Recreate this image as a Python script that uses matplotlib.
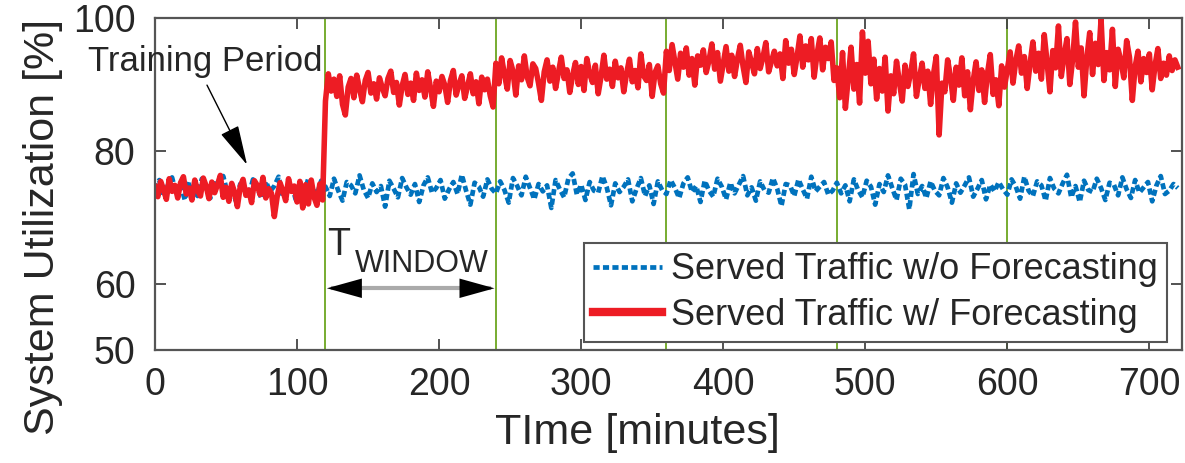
import numpy as np
import matplotlib
matplotlib.use('Agg')
import matplotlib.pyplot as plt

plt.rcParams['font.family'] = ['Liberation Sans', 'DejaVu Sans']

# 时间轴（分钟）：红线每 2 分钟一个点，蓝线每 3 分钟一个点
time_forecast = np.arange(0, 721, 2)
time_no_forecast = np.arange(0, 721, 3)

# 有预测时的系统利用率（红色）
util_forecast = [
    74.6, 73.1, 75.4, 74.2, 72.7, 75.8, 73.9, 74.8, 72.9, 75.2,
    76.1, 73.5, 74.4, 72.6, 75.6, 74.0, 73.2, 75.9, 74.7, 72.8,
    75.3, 73.7, 74.9, 76.3, 73.0, 74.5, 72.4, 75.1, 73.8, 71.6,
    74.6, 75.7, 73.3, 74.1, 72.2, 75.5, 74.8, 73.4, 76.0, 72.9,
    74.3, 73.6, 70.1, 73.1, 75.2, 74.0, 72.5, 75.8, 73.9, 74.7,
    72.3, 75.4, 71.4, 74.9, 72.0, 75.6, 73.0, 71.8, 75.0, 72.6,
    87.5, 91.6, 89.0, 90.8, 88.2, 91.3, 87.0, 85.4, 89.6, 90.9,
    88.0, 91.4, 89.3, 87.4, 90.6, 91.8, 88.7, 90.1, 87.8, 91.0,
    89.5, 88.3, 90.9, 92.0, 88.8, 90.3, 86.9, 89.8, 91.5, 88.5,
    90.2, 87.6, 91.7, 89.1, 90.7, 88.1, 91.9, 89.4, 86.7, 90.5,
    88.9, 91.2, 89.9, 87.3, 90.6, 92.1, 88.4, 90.0, 91.3, 87.9,
    89.7, 91.6, 88.6, 90.4, 87.1, 91.1, 89.2, 90.8, 88.3, 86.6,
    93.2, 90.1, 94.0, 91.5, 89.3, 93.6, 92.0, 88.4, 92.8, 90.7,
    94.3, 91.1, 89.8, 93.1, 92.4, 90.2, 87.6, 91.9, 93.7, 90.5,
    92.6, 89.4, 91.8, 94.1, 90.9, 92.2, 88.8, 91.4, 93.3, 90.0,
    92.7, 89.1, 93.9, 91.6, 90.3, 92.9, 88.6, 91.2, 94.4, 90.8,
    92.3, 89.7, 93.5, 91.0, 92.5, 88.9, 91.7, 93.8, 90.4, 92.1,
    89.5, 94.6, 91.3, 90.6, 93.0, 88.2, 91.8, 92.8, 90.1, 88.7,
    95.0, 92.1, 96.0, 93.4, 90.8, 94.7, 92.6, 95.5, 91.4, 93.9,
    89.9, 94.3, 92.9, 95.2, 91.8, 93.6, 96.1, 92.3, 94.8, 90.5,
    93.1, 95.7, 92.0, 94.4, 91.2, 93.8, 95.9, 92.7, 90.3, 94.9,
    93.3, 91.6, 95.4, 92.4, 94.1, 96.3, 91.9, 93.5, 95.0, 92.8,
    94.6, 90.9, 96.6, 93.2, 95.3, 91.5, 94.2, 97.3, 92.6, 95.8,
    93.7, 96.9, 91.1, 94.5, 97.0, 92.2, 95.6, 93.9, 96.4, 90.6,
    92.5, 88.0, 94.8, 86.4, 90.9, 95.6, 89.3, 93.0, 87.2, 97.9,
    91.7, 96.5, 90.1, 93.8, 87.8, 92.4, 89.0, 94.1, 86.0, 91.3,
    88.6, 93.5, 90.4, 87.5, 92.9, 89.7, 91.8, 94.6, 88.2, 90.8,
    93.2, 89.4, 92.0, 87.0, 91.5, 94.2, 82.4, 90.2, 88.9, 93.7,
    91.1, 87.6, 92.6, 89.9, 94.0, 88.3, 91.9, 86.2, 90.6, 93.4,
    89.1, 92.2, 87.3, 91.6, 94.5, 88.5, 90.7, 86.8, 92.8, 89.6,
    92.3, 94.9, 90.2, 93.6, 95.8, 91.7, 94.2, 89.4, 93.1, 96.4,
    92.0, 94.7, 90.8, 97.5, 93.3, 88.9, 95.1, 92.5, 98.8, 91.2,
    94.4, 96.9, 90.0, 93.8, 99.4, 92.6, 95.5, 88.3, 94.0, 97.8,
    91.5, 96.2, 93.0, 99.8, 90.6, 94.8, 92.2, 98.3, 89.7, 95.3,
    93.5, 91.0, 96.6, 94.1, 87.6, 92.7, 95.0, 90.4, 93.9, 91.8,
    94.6, 89.2, 92.9, 95.4, 90.9, 93.2, 91.4, 94.3, 92.1, 93.7,
    92.6,
]

# 无预测时的系统利用率（蓝色点线）
util_no_forecast = [
    74.2, 75.6, 73.1, 74.8, 76.0, 73.5, 74.9, 72.6, 75.3, 74.0,
    73.2, 75.8, 74.5, 72.9, 75.1, 74.3, 76.2, 73.7, 74.6, 72.4,
    75.0, 74.1, 73.3, 75.7, 74.4, 72.8, 75.4, 73.9, 74.7, 76.1,
    73.0, 74.5, 75.2, 72.7, 74.9, 73.6, 75.9, 74.2, 73.4, 75.5,
    74.6, 73.2, 75.8, 74.0, 72.5, 75.3, 74.8, 73.6, 76.3, 74.1,
    72.9, 75.1, 73.8, 74.7, 71.6, 75.5, 74.3, 73.0, 75.9, 74.5,
    73.4, 75.0, 72.3, 74.8, 76.0, 73.7, 74.4, 75.6, 72.8, 74.2,
    75.3, 73.5, 76.4, 74.0, 71.9, 75.2, 74.6, 73.1, 75.7, 74.3,
    73.6, 75.4, 74.1, 72.2, 75.9, 74.7, 73.3, 76.1, 74.4, 72.7,
    75.0, 73.9, 74.8, 71.4, 75.6, 74.2, 73.0, 75.8, 76.6, 73.4,
    74.9, 72.6, 75.3, 74.0, 73.7, 76.2, 74.5, 71.8, 75.1, 73.8,
    74.6, 75.7, 72.4, 74.3, 75.9, 73.2, 74.8, 72.0, 75.4, 74.1,
    73.5, 75.6, 74.4, 72.9, 75.1, 76.0, 73.8, 74.7, 72.3, 75.5,
    74.0, 73.1, 75.8, 74.6, 72.7, 75.2, 73.6, 74.9, 76.2, 73.3,
    74.5, 72.5, 75.4, 74.1, 73.7, 75.9, 74.3, 71.7, 75.0, 74.8,
    73.2, 75.7, 74.2, 72.8, 76.1, 73.9, 74.6, 75.3, 73.4, 74.0,
    75.2, 73.6, 74.8, 72.4, 75.7, 74.1, 73.0, 75.5, 74.6, 71.9,
    75.0, 73.8, 76.3, 74.4, 72.6, 75.8, 74.9, 71.2, 76.5, 73.5,
    74.7, 72.9, 75.4, 74.0, 73.3, 75.9, 74.5, 72.2, 75.1, 73.7,
    74.8, 76.0, 73.1, 74.3, 75.6, 72.7, 74.9, 73.9, 75.3, 74.2,
    73.4, 75.7, 74.6, 72.8, 76.1, 74.0, 73.2, 75.4, 74.8, 72.5,
    75.9, 74.3, 73.6, 75.1, 76.4, 73.0, 74.7, 72.3, 75.5, 74.1,
    73.8, 75.8, 74.4, 72.6, 75.2, 74.9, 73.3, 76.0, 74.2, 72.9,
    75.6, 73.7, 74.5, 75.3, 72.4, 74.8, 76.2, 73.5, 74.0, 75.0,
    74.4,
]

# 预测窗口边界（分钟）
window_bounds = [120, 240, 360, 480, 600]

x_ticks = [0, 100, 200, 300, 400, 500, 600, 700]
y_ticks = [50, 60, 80, 100]

fig = plt.figure(figsize=(11.85, 4.63), dpi=100)
ax = fig.add_axes([0.1308, 0.244, 0.8667, 0.717])

ax.plot(time_no_forecast, util_no_forecast, color='#0072bd', linewidth=3.4,
        dashes=(1.3, 0.7), label='Served Traffic w/o Forecasting')
ax.plot(time_forecast, util_forecast, color='#ed1c24', linewidth=4.0,
        label='Served Traffic w/ Forecasting')

for b in window_bounds:
    ax.axvline(b, color='#77ac30', linewidth=1.4, zorder=1)

ax.set_xlim(0, 723)
ax.set_ylim(50, 100)
ax.set_xticks(x_ticks)
ax.set_yticks(y_ticks)
ax.tick_params(direction='in', length=8, width=1.3, colors='#444444', labelsize=27,
               top=True, right=True, labelcolor='#262626')
ax.tick_params(axis='x', pad=12)
ax.tick_params(axis='y', pad=14)
for s in ax.spines.values():
    s.set_color('#555555')
    s.set_linewidth(1.6)

ax.set_xlabel('TIme [minutes]', fontsize=31, color='#262626')
ax.xaxis.set_label_coords(0.47, -0.19)
ax.set_ylabel('System Utilization [%]', fontsize=31, color='#262626')
ax.yaxis.set_label_coords(-0.09, 0.37)

# 训练期标注
ax.text(-47, 93.4, 'Training Period', fontsize=25, color='#262626',
        ha='left', va='center', clip_on=False)
ax.annotate('', xy=(64.8, 77.9), xytext=(36.6, 89.9),
            arrowprops=dict(arrowstyle='-|>,head_length=0.9,head_width=0.22',
                            color='k', lw=1.0, mutation_scale=28,
                            shrinkA=0, shrinkB=0))

# T_WINDOW 标注
ax.text(121, 64.3, 'T', fontsize=27, color='#262626', ha='left', va='baseline')
ax.text(140.5, 61.8, 'WINDOW', fontsize=22, color='#262626', ha='left', va='baseline')
ax.plot([125, 235], [59.3, 59.3], color='#aaaaaa', linewidth=3, zorder=3)
ax.annotate('', xy=(121, 59.3), xytext=(139, 59.3),
            arrowprops=dict(arrowstyle='-|>,head_length=0.9,head_width=0.25',
                            color='k', lw=0, mutation_scale=28,
                            shrinkA=0, shrinkB=0))
ax.annotate('', xy=(239, 59.3), xytext=(221, 59.3),
            arrowprops=dict(arrowstyle='-|>,head_length=0.9,head_width=0.25',
                            color='k', lw=0, mutation_scale=28,
                            shrinkA=0, shrinkB=0))

leg = ax.legend(loc='lower right', bbox_to_anchor=(0.985, 0.024), borderaxespad=0,
                fontsize=26, fancybox=False, framealpha=1, edgecolor='#555555',
                handlelength=1.9, handletextpad=0.25, borderpad=0.25, labelspacing=0.3)
leg.get_frame().set_linewidth(1.5)
for t in leg.get_texts():
    t.set_color('#262626')
leg.get_lines()[1].set_linewidth(6)

fig.savefig('out.png', dpi=100)
